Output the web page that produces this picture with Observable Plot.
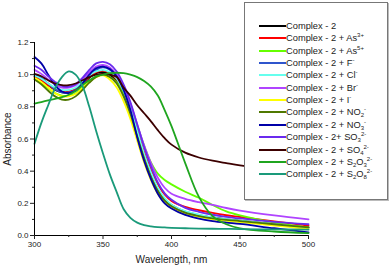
<!DOCTYPE html>
<html><head><meta charset="utf-8">
<script src="https://cdn.jsdelivr.net/npm/d3@7"></script>
<script src="https://cdn.jsdelivr.net/npm/@observablehq/plot@0.6"></script>
<style>
body{margin:0;background:#fff;font-family:"Liberation Sans",Arial,sans-serif;}
#wrap{position:relative;width:390px;height:266px;}
#legend{position:absolute;left:244px;top:2px;width:142px;height:196px;background:#fff;border:1px solid #777;box-shadow:1px 1px 0 #bbb;font-size:9.3px;color:#222;}
.entry{position:absolute;left:0;height:12px;line-height:12px;white-space:nowrap;}
.swatch{position:absolute;left:14px;top:5px;width:27px;height:2px;}
.lab{position:absolute;left:41px;top:0;}
.lab sup{font-size:6px;vertical-align:4px;line-height:0;}
.lab sub{font-size:6px;vertical-align:-2px;line-height:0;}
</style></head>
<body><div id="wrap"></div>
<script>
const wavelengths = [300,305,310,315,320,325,330,335,340,345,350,355,360,365,370,375,380,385,390,395,400,410,420,430,440,450,475,500];

const complex2 = [0.99,0.97,0.935,0.905,0.89,0.89,0.905,0.94,0.98,1.01,1.015,1.0,0.96,0.88,0.77,0.63,0.49,0.375,0.285,0.225,0.19,0.148,0.127,0.112,0.1,0.092,0.07,0.05];
const as3 = [0.985,0.965,0.935,0.91,0.895,0.895,0.91,0.945,0.985,1.015,1.025,1.01,0.97,0.9,0.79,0.655,0.52,0.41,0.32,0.255,0.215,0.178,0.157,0.14,0.126,0.115,0.088,0.062];
const as5 = [0.975,0.95,0.915,0.885,0.87,0.87,0.885,0.92,0.96,0.99,1.0,0.985,0.95,0.885,0.795,0.68,0.56,0.455,0.385,0.345,0.318,0.272,0.235,0.19,0.15,0.125,0.08,0.05];
const fluoride = [1.0,0.98,0.945,0.91,0.89,0.89,0.905,0.945,0.995,1.03,1.045,1.03,0.985,0.9,0.78,0.635,0.495,0.375,0.285,0.22,0.183,0.142,0.122,0.107,0.096,0.088,0.068,0.045];
const chloride = [0.995,0.975,0.945,0.92,0.905,0.905,0.92,0.955,0.995,1.02,1.03,1.015,0.975,0.9,0.79,0.648,0.508,0.392,0.298,0.232,0.192,0.152,0.13,0.113,0.101,0.092,0.07,0.045];
const bromide = [1.03,1.005,0.97,0.94,0.92,0.92,0.935,0.97,1.015,1.05,1.06,1.045,1.0,0.925,0.82,0.69,0.56,0.45,0.36,0.297,0.26,0.228,0.207,0.19,0.171,0.155,0.125,0.1];
const iodide = [0.98,0.955,0.92,0.885,0.865,0.865,0.88,0.915,0.955,0.985,0.995,0.97,0.92,0.835,0.725,0.59,0.455,0.345,0.26,0.205,0.172,0.136,0.116,0.101,0.091,0.083,0.062,0.04];
const nitrite = [0.97,0.94,0.9,0.865,0.845,0.845,0.865,0.905,0.95,0.985,1.0,0.985,0.945,0.865,0.755,0.615,0.48,0.365,0.277,0.217,0.182,0.142,0.121,0.106,0.097,0.09,0.07,0.05];
const nitrate = [1.11,1.07,1.0,0.935,0.895,0.885,0.9,0.945,1.0,1.04,1.05,1.035,0.99,0.905,0.78,0.61,0.465,0.35,0.26,0.2,0.168,0.128,0.105,0.09,0.08,0.072,0.045,0.02];
const sulfite = [1.055,1.03,0.99,0.955,0.93,0.925,0.94,0.98,1.03,1.07,1.08,1.065,1.02,0.94,0.83,0.69,0.55,0.43,0.33,0.262,0.222,0.172,0.147,0.129,0.116,0.106,0.085,0.07];
const sulfate = [1.005,0.99,0.965,0.945,0.935,0.935,0.945,0.965,0.985,1.0,1.005,1.0,0.985,0.92,0.87,0.81,0.76,0.71,0.655,0.605,0.565,0.515,0.485,0.465,0.45,0.436,0.41,0.39];
const thiosulfate = [0.82,0.83,0.84,0.85,0.86,0.875,0.9,0.935,0.965,0.99,1.0,1.01,1.012,1.01,1.0,0.985,0.96,0.925,0.87,0.78,0.68,0.45,0.24,0.12,0.07,0.045,0.025,0.015];
const persulfate = [0.57,0.70,0.81,0.915,0.985,1.02,1.0,0.93,0.8,0.65,0.51,0.38,0.27,0.165,0.11,0.08,0.065,0.057,0.052,0.05,0.048,0.045,0.043,0.042,0.041,0.04,0.038,0.036];

const seriesLabels = [
  "Complex - 2",
  "Complex - 2 + As<sup>3+</sup>",
  "Complex - 2 + As<sup>5+</sup>",
  "Complex - 2 + F<sup>-</sup>",
  "Complex - 2 + Cl<sup>-</sup>",
  "Complex - 2 + Br<sup>-</sup>",
  "Complex - 2 + I<sup>-</sup>",
  "Complex - 2 + NO<sub>2</sub><sup>-</sup>",
  "Complex - 2 + NO<sub>3</sub><sup>-</sup>",
  "Complex - 2+ SO<sub>3</sub><sup>2-</sup>",
  "Complex - 2 + SO<sub>4</sub><sup>2-</sup>",
  "Complex - 2 + S<sub>2</sub>O<sub>3</sub><sup>2-</sup>",
  "Complex - 2 + S<sub>2</sub>O<sub>8</sub><sup>2-</sup>"
];
const seriesColors = ["#000000","#ff0000","#66ff00","#2f55cc","#66ffee","#b044ff","#ffff00","#4f7800","#0000a8","#6a2aee","#3c0000","#1fa51f","#1a9a7a"];
const seriesValues = [complex2,as3,as5,fluoride,chloride,bromide,iodide,nitrite,nitrate,sulfite,sulfate,thiosulfate,persulfate];

const xMajor = [300,350,400,450,500];
const xMinor = [325,375,425,475];
const yMajor = [0,0.2,0.4,0.6,0.8,1.0,1.2];
const yMinor = [0.1,0.3,0.5,0.7,0.9,1.1];

const rows = [];
seriesValues.forEach((vals, i) => vals.forEach((v, j) => rows.push({s: i, x: wavelengths[j], y: v})));

const chart = Plot.plot({
  width: 390, height: 266,
  marginLeft: 34, marginRight: 82, marginTop: 42, marginBottom: 31,
  style: {fontFamily: "Liberation Sans, Arial, sans-serif", fontSize: "8px", color: "#222", background: "#fff"},
  x: {domain: [300, 500]},
  y: {domain: [0, 1.2]},
  marks: [
    Plot.line(rows, {x: "x", y: "y", z: "s", stroke: d => seriesColors[d.s], strokeWidth: 1.8, curve: "catmull-rom"}),
    Plot.ruleX([300], {stroke: "#000", strokeWidth: 1}),
    Plot.ruleY([0], {stroke: "#000", strokeWidth: 1}),
    Plot.axisX({ticks: xMajor, tickSize: 4, tickPadding: 2, label: "Wavelength, nm", labelArrow: "none", labelAnchor: "center", labelOffset: 27, fontSize: 8}),
    Plot.axisX({ticks: xMinor, tickSize: 2, text: null, label: null}),
    Plot.axisY({ticks: yMajor, tickSize: 4, tickPadding: 2, tickFormat: d3.format(".1f"), label: "Absorbance", labelArrow: "none", labelAnchor: "center", labelOffset: 31, fontSize: 8}),
    Plot.axisY({ticks: yMinor, tickSize: 2, text: null, label: null})
  ]
});
chart.querySelectorAll("[aria-label='x-axis label'] text, [aria-label='y-axis label'] text").forEach(t => {
  t.style.fontSize = "10px";
  t.textContent = t.textContent.replace(/\s*[→↑←↓]\s*/g, "");
});
const wrap = document.getElementById("wrap");
wrap.appendChild(chart);

const legend = document.createElement("div");
legend.id = "legend";
seriesLabels.forEach((lab, i) => {
  const e = document.createElement("div");
  e.className = "entry";
  e.style.top = (17 + i * 12.35) + "px";
  e.innerHTML = `<span class="swatch" style="background:${seriesColors[i]}"></span><span class="lab">${lab}</span>`;
  legend.appendChild(e);
});
wrap.appendChild(legend);
</script></body></html>
